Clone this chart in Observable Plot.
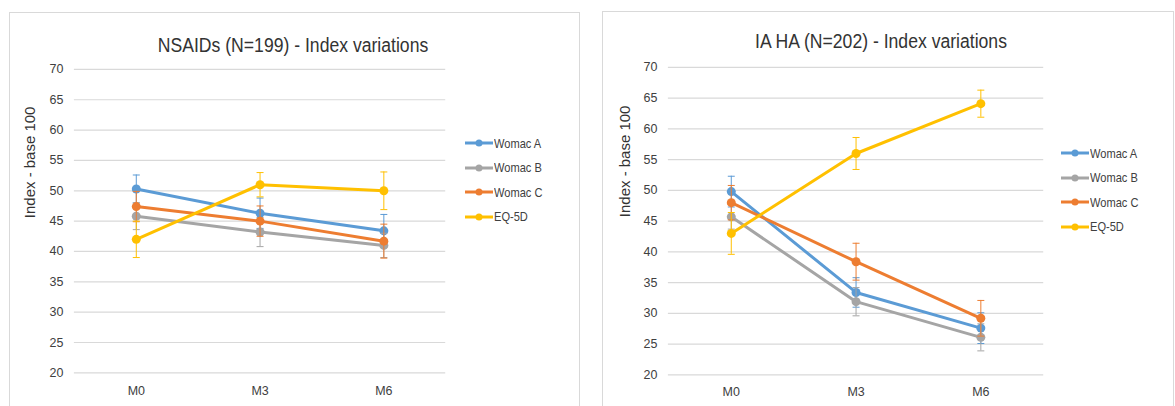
<!DOCTYPE html>
<html><head><meta charset="utf-8">
<script src="https://cdn.jsdelivr.net/npm/d3@7"></script>
<script src="https://cdn.jsdelivr.net/npm/@observablehq/plot@0.6"></script>
<style>
html,body{margin:0;padding:0;background:#fff;}
body{width:1175px;height:406px;overflow:hidden;position:relative;font-family:"Liberation Sans",Arial,sans-serif;}
.panel{position:absolute;border:1px solid #d9d9d9;background:#fff;overflow:hidden;}
.inner{position:absolute;left:-1px;top:-1px;}
.title{position:absolute;white-space:nowrap;font-size:20px;line-height:20px;color:#333;transform:translateX(-50%) scaleX(0.88);}
.legend{position:absolute;font-size:13.5px;color:#404040;}
.legrow{position:absolute;left:0;height:14px;display:flex;align-items:center;white-space:nowrap;}
.legrow svg{display:block;margin-right:1px;}
.legrow span{display:inline-block;transform:scaleX(0.82);transform-origin:0 50%;}
</style></head><body>
<script>
// ---- data ----
const months = ["M0", "M3", "M6"];
const seriesNames = ["Womac A", "Womac B", "Womac C", "EQ-5D"];
const seriesColors = ["#5B9BD5", "#A5A5A5", "#ED7D31", "#FFC000"];
const yTicks = [20, 25, 30, 35, 40, 45, 50, 55, 60, 65, 70];

const nsaidsTitle = "NSAIDs (N=199) - Index variations";
const nsaidsValues = [
  [50.3, 46.3, 43.4],
  [45.8, 43.2, 41.0],
  [47.4, 45.0, 41.7],
  [42.0, 51.0, 50.0]
];
const nsaidsErrors = [
  [2.3, 2.5, 2.7],
  [2.2, 2.4, 2.0],
  [2.5, 2.5, 2.8],
  [3.0, 2.0, 3.1]
];

const iahaTitle = "IA HA (N=202) - Index variations";
const iahaValues = [
  [49.8, 33.4, 27.6],
  [45.7, 31.9, 26.1],
  [48.0, 38.4, 29.2],
  [43.0, 56.0, 64.1]
];
const iahaErrors = [
  [2.5, 2.4, 2.5],
  [2.0, 2.3, 2.2],
  [2.8, 3.0, 2.9],
  [3.4, 2.6, 2.2]
];
const yAxisTitle = "Index - base 100";

// horizontal cap symbol for error bars
const capSymbol = {draw(ctx) { ctx.moveTo(-3.5, 0); ctx.lineTo(3.5, 0); }};

// ---- drawing ----
function makePanel(cfg) {
  const panel = document.createElement("div");
  panel.className = "panel";
  Object.assign(panel.style, {left: cfg.left + "px", top: cfg.top + "px", width: (cfg.width - 2) + "px", height: (cfg.height + 20) + "px"});
  document.body.appendChild(panel);

  const rows = [];
  seriesNames.forEach((s, si) => months.forEach((m, mi) => rows.push({series: s, month: m, value: cfg.values[si][mi], err: cfg.errors[si][mi]})));

  const marks = [
    Plot.ruleY(yTicks, {stroke: "#d9d9d9", strokeWidth: 1.2}),
    Plot.axisY({ticks: yTicks, tickSize: 0, tickPadding: 11, label: null, fontSize: 12.5, fill: "#404040"}),
    Plot.axisX({tickSize: 0, tickPadding: cfg.xPad, label: null, fontSize: 12.5, fill: "#404040"})
  ];
  seriesNames.forEach((s, si) => {
    const d = rows.filter(r => r.series === s);
    const c = seriesColors[si];
    marks.push(Plot.line(d, {x: "month", y: "value", stroke: c, strokeWidth: 3}));
    marks.push(Plot.ruleX(d, {x: "month", y1: r => r.value - r.err, y2: r => r.value + r.err, stroke: c, strokeWidth: 1}));
    marks.push(Plot.dot(d, {x: "month", y: r => r.value + r.err, symbol: capSymbol, stroke: c, fill: "none", strokeWidth: 1}));
    marks.push(Plot.dot(d, {x: "month", y: r => r.value - r.err, symbol: capSymbol, stroke: c, fill: "none", strokeWidth: 1}));
    marks.push(Plot.dot(d, {x: "month", y: "value", fill: c, r: 4.5}));
  });
  marks.push(Plot.text([yAxisTitle], {frameAnchor: "left", dx: -cfg.yTitleOffset, dy: cfg.yTitleDy, rotate: -90, fontSize: 15, fill: "#333"}));

  const chart = Plot.plot({
    width: cfg.width,
    height: cfg.height,
    marginLeft: cfg.mL, marginRight: cfg.mR, marginTop: cfg.mT, marginBottom: cfg.mB,
    style: {fontSize: "12px", color: "#404040", background: "transparent", fontFamily: "Liberation Sans, Arial, sans-serif", overflow: "visible"},
    x: {type: "point", domain: months, padding: 0.5},
    y: {domain: [20, 70]},
    marks
  });
  const inner = document.createElement("div");
  inner.className = "inner";
  inner.appendChild(chart);
  panel.appendChild(inner);

  const t = document.createElement("div");
  t.className = "title";
  t.textContent = cfg.title;
  Object.assign(t.style, {left: (cfg.titleX - 1) + "px", top: (cfg.titleTop - 1) + "px"});
  panel.appendChild(t);

  const leg = document.createElement("div");
  leg.className = "legend";
  Object.assign(leg.style, {left: (cfg.legX - 1) + "px", top: (cfg.legY - 1) + "px"});
  seriesNames.forEach((s, si) => {
    const row = document.createElement("div");
    row.className = "legrow";
    row.style.top = (si * cfg.legStep - 7) + "px";
    const c = seriesColors[si];
    row.innerHTML = `<svg width="28" height="10"><line x1="0" y1="5" x2="28" y2="5" stroke="${c}" stroke-width="3"/><circle cx="14" cy="5" r="3.5" fill="${c}"/></svg><span>${s}</span>`;
    leg.appendChild(row);
  });
  panel.appendChild(leg);
}

makePanel({
  left: 9, top: 12, width: 571, height: 394,
  mL: 65, mR: 134, mT: 57, mB: 33,
  xPad: 13, yTitleOffset: 44, yTitleDy: -3,
  title: nsaidsTitle, titleX: 284, titleTop: 23,
  values: nsaidsValues, errors: nsaidsErrors,
  legX: 456, legY: 131, legStep: 24.6
});
makePanel({
  left: 602, top: 11, width: 572, height: 395,
  mL: 66, mR: 130, mT: 56, mB: 31,
  xPad: 12, yTitleOffset: 43, yTitleDy: -4,
  title: iahaTitle, titleX: 279, titleTop: 20,
  values: iahaValues, errors: iahaErrors,
  legX: 459, legY: 142, legStep: 24.6
});
</script>
</body></html>
